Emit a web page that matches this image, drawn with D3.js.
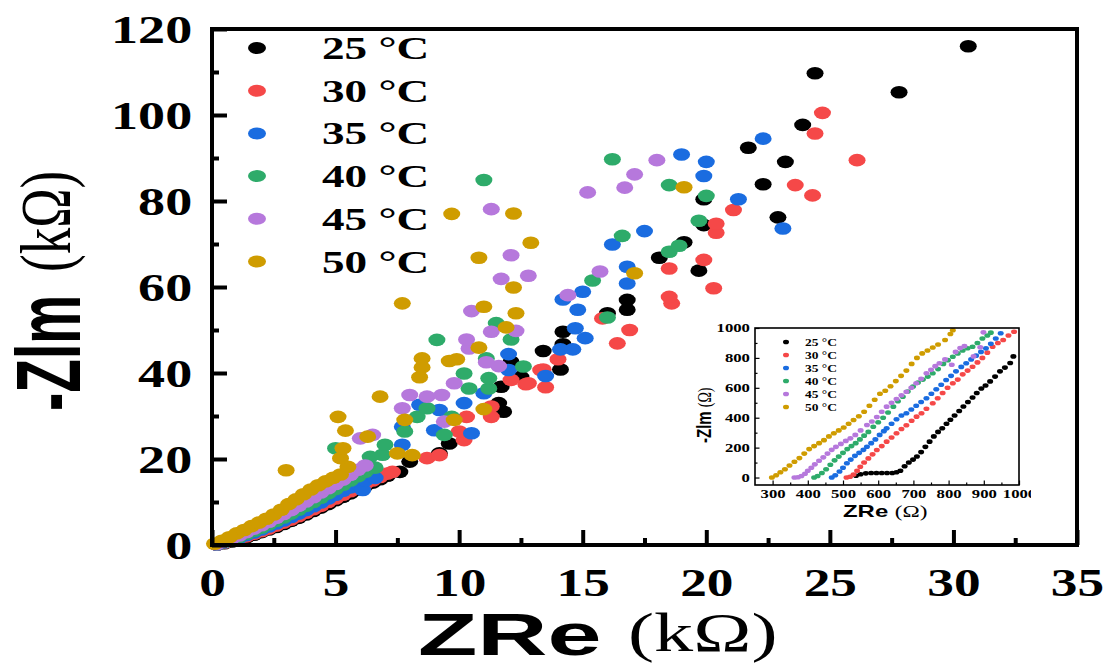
<!DOCTYPE html>
<html>
<head>
<meta charset="utf-8">
<script src="https://cdn.jsdelivr.net/npm/d3@7"></script>
<style>
  body { margin: 0; background: #fff; }
</style>
</head>
<body>
<div class="chart"></div>
<script>
// Nyquist plots, main (kOhm) + inset (Ohm)
var seriesNames = ["25 °C", "30 °C", "35 °C", "40 °C", "45 °C", "50 °C"];

// main plot values [ZRe kOhm, -ZIm kOhm]
var main25 = [[0.2,0.1],[0.5,0.4],[0.8,0.8],[1.1,1.3],[1.4,1.8],[1.7,2.4],[2.0,3.0],[2.3,3.6],[2.6,4.2],[2.9,4.9],[3.2,5.6],[3.5,6.3],[3.8,7.1],[4.1,7.9],[4.4,8.7],[4.7,9.5],[5.0,10.4],[5.3,11.2],[5.6,12.0],[5.9,12.9],[6.2,13.7],[6.5,14.5],[6.8,15.3],[7.1,16.1],
  [7.6,17.0],[8.0,19.4],[9.2,21.3],[9.6,23.6],[11.8,31.0],[11.6,33.0],[11.7,36.8],[12.5,39.1],[12.1,42.6],[13.4,45.1],[14.1,40.8],[14.2,46.7],[14.2,49.6],[16.0,53.9],[16.8,54.7],[16.8,57.0],[18.1,66.8],[19.7,63.8],[19.1,70.4],[19.9,74.4],[19.9,80.4],[22.9,76.2],[22.3,83.9],[23.2,89.1],[21.7,92.4],[23.9,97.7],[24.4,109.7],[27.8,105.3],[30.6,116.0]];
var main30 = [[0.2,0.1],[0.5,0.5],[0.8,1.0],[1.1,1.5],[1.4,2.0],[1.7,2.6],[2.0,3.2],[2.3,3.8],[2.6,4.5],[2.9,5.2],[3.2,5.9],[3.5,6.7],[3.8,7.5],[4.1,8.3],[4.4,9.1],[4.7,10.0],[5.0,10.8],[5.3,11.7],[5.6,12.5],[5.9,13.4],[6.2,14.2],[6.5,15.0],[6.8,15.8],[7.1,16.6],
  [7.3,17.0],[8.7,20.2],[9.2,20.9],[10.2,24.4],[10.0,26.4],[10.3,29.8],[11.3,29.8],[11.3,32.2],[12.1,38.4],[12.7,37.4],[12.8,37.6],[13.5,36.7],[13.3,40.7],[13.4,40.8],[14.0,43.2],[16.4,46.9],[16.9,50.0],[15.8,52.7],[18.6,56.2],[18.5,57.7],[20.3,59.7],[18.5,64.3],[19.9,66.3],[20.4,72.6],[20.4,74.7],[21.1,77.9],[24.3,81.3],[23.6,83.7],[26.1,89.5],[24.4,95.7],[24.7,100.5]];
var main35 = [[0.2,0.1],[0.5,0.6],[0.8,1.1],[1.1,1.7],[1.4,2.3],[1.7,2.9],[2.0,3.6],[2.3,4.3],[2.6,5.0],[2.9,5.7],[3.2,6.5],[3.5,7.3],[3.8,8.1],[4.1,9.0],[4.4,9.9],[4.7,10.8],[5.0,11.7],[5.3,12.6],[5.6,13.4],[5.9,14.2],[6.1,12.8],[6.2,15.0],[6.6,15.6],
  [7.7,23.3],[7.7,27.5],[9.0,26.7],[10.5,26.0],[9.2,31.4],[8.4,32.6],[10.2,33.0],[11.0,35.3],[13.5,39.3],[12.0,40.7],[12.0,44.4],[14.1,45.5],[14.6,45.5],[15.1,48.1],[14.7,50.4],[14.8,54.7],[14.2,57.1],[15.0,58.9],[16.8,60.8],[16.8,64.7],[16.2,69.9],[17.5,73.0],[23.1,73.6],[21.3,80.4],[19.9,85.8],[20.0,89.1],[19.0,90.8],[22.3,94.5]];
var main40 = [[0.2,0.2],[0.5,0.7],[0.8,1.3],[1.1,1.9],[1.4,2.6],[1.7,3.3],[2.0,4.0],[2.3,4.8],[2.6,5.6],[2.9,6.4],[3.2,7.3],[3.5,8.2],[3.8,9.1],[4.1,10.0],[4.4,11.0],[4.7,12.0],[5.0,13.0],[5.3,14.0],[5.6,15.0],[5.9,16.0],[6.2,17.0],[6.6,18.0],
  [5.0,22.5],[6.4,20.5],[6.9,21.0],[7.0,23.3],[7.8,26.4],[9.4,25.6],[8.3,29.8],[9.7,29.8],[8.7,31.8],[10.4,36.4],[11.2,36.4],[11.2,38.8],[10.2,39.9],[12.6,41.5],[11.1,43.4],[9.1,47.7],[12.1,47.8],[11.5,51.6],[16.0,52.9],[15.4,61.5],[18.5,68.2],[18.9,69.6],[16.6,71.9],[19.7,75.4],[20.0,81.2],[18.5,83.7],[11.0,84.9],[16.2,89.7]];
var main45 = [[0.2,0.2],[0.5,0.8],[0.8,1.5],[1.1,2.2],[1.4,3.0],[1.7,3.8],[2.0,4.6],[2.3,5.4],[2.6,6.3],[2.9,7.2],[3.2,8.1],[3.5,9.1],[3.8,10.1],[4.1,11.1],[4.4,12.2],[4.7,13.2],[5.0,14.2],[5.3,15.2],[5.6,16.3],[5.9,17.5],[6.2,18.5],
  [6.0,24.8],[6.5,25.6],[7.7,31.8],[9.4,28.7],[8.0,34.9],[8.7,34.5],[9.3,34.9],[9.8,37.6],[11.6,41.6],[11.1,42.5],[10.4,45.7],[10.3,47.8],[11.3,49.6],[12.3,49.8],[10.5,54.4],[14.4,58.1],[11.7,61.9],[12.8,62.6],[15.7,63.6],[12.1,67.4],[11.3,78.1],[15.2,82.0],[16.7,83.1],[17.1,86.2],[18.0,89.5]];
var main50 = [[0.1,0.3],[0.4,1.0],[0.7,1.8],[1.0,2.7],[1.3,3.5],[1.6,4.4],[1.9,5.2],[2.2,6.1],[2.5,7.1],[2.8,8.2],[3.1,9.5],[3.4,10.6],[3.7,11.8],[4.0,12.9],[4.3,13.9],[4.6,14.8],[4.9,15.6],[5.2,16.4],
  [3.0,17.4],[5.5,18.2],[5.2,20.2],[5.3,22.5],[5.4,26.6],[5.1,29.8],[6.3,25.2],[7.5,21.3],[8.1,20.9],[7.8,29.1],[9.8,29.1],[11.0,31.6],[6.8,34.5],[8.4,39.0],[8.5,41.3],[9.6,42.8],[9.9,43.2],[8.5,43.4],[10.8,45.9],[11.9,50.6],[12.3,53.9],[11.0,55.4],[7.7,56.2],[12.2,59.9],[17.1,63.2],[10.8,66.8],[12.9,70.3],[9.7,77.0],[12.2,77.1],[19.1,83.2]];

// inset values [ZRe Ohm, -ZIm Ohm]
var inset25 = [[537,12],[550,22],[565,28],[580,30],[595,30],[610,30],[625,30],[640,30],[652,35],[663,45],[675,75],[687,100],[699,120],[710,141],[722,170],[734,205],[746,240],[758,275],[770,305],[782,330],[794,360],[805,386],[817,415],[830,445],[842,475],[855,505],[868,535],[880,565],[893,595],[905,615],[918,643],[932,675],[946,710],[960,735],[975,766],[984,810]];
var inset30 = [[510,0],[520,5],[530,20],[540,45],[549,72],[560,100],[572,128],[584,155],[596,184],[610,210],[624,240],[638,268],[652,296],[666,325],[680,350],[695,380],[709,407],[723,430],[737,460],[755,497],[769,530],[783,565],[797,600],[812,630],[826,655],[840,690],[854,715],[868,741],[882,770],[896,800],[910,835],[925,875],[940,900],[955,920],[970,950],[986,975]];
var inset35 = [[468,0],[478,15],[490,40],[500,65],[511,95],[522,120],[534,145],[546,165],[558,185],[568,206],[580,230],[592,255],[604,285],[616,310],[624,329],[638,360],[652,390],[666,415],[680,430],[694,455],[708,480],[722,505],[737,530],[751,560],[765,590],[779,620],[793,652],[807,680],[821,710],[836,740],[850,764],[864,790],[878,815],[892,840],[906,864],[920,895],[934,930],[948,965]];
var inset40 = [[418,0],[428,10],[440,30],[452,55],[464,85],[476,115],[488,140],[500,165],[512,190],[524,210],[536,230],[548,255],[560,280],[572,305],[586,340],[600,370],[614,400],[628,435],[643,474],[656,510],[670,540],[684,575],[699,608],[713,635],[727,655],[741,675],[755,697],[770,725],[785,760],[798,785],[812,808],[826,830],[840,850],[854,865],[868,875],[882,900],[896,930],[910,950],[920,969]];
var inset45 = [[362,0],[372,2],[382,10],[392,25],[400,45],[410,65],[420,88],[432,112],[444,135],[456,160],[468,185],[480,205],[494,225],[508,245],[521,262],[535,285],[550,315],[568,351],[582,375],[596,405],[610,440],[624,474],[638,500],[652,525],[666,550],[680,574],[694,600],[708,630],[722,660],[737,697],[750,720],[762,745],[774,764],[790,790],[809,754],[820,840],[833,866],[845,880],[871,810],[890,871],[899,971]];
var inset50 = [[298,0],[310,15],[322,35],[335,55],[348,80],[362,105],[376,130],[390,160],[404,190],[418,210],[432,230],[446,250],[460,275],[474,296],[488,315],[502,335],[516,360],[530,385],[545,410],[560,440],[575,480],[590,520],[605,560],[620,580],[635,610],[650,645],[665,680],[680,715],[695,760],[710,800],[725,830],[740,850],[755,870],[770,890],[790,920],[805,960],[812,985]];

var mainTicksX = [0, 5, 10, 15, 20, 25, 30, 35];
var mainTicksY = [0, 20, 40, 60, 80, 100, 120];
var insetTicksX = [300, 400, 500, 600, 700, 800, 900, 1000];
var insetTicksY = [0, 200, 400, 600, 800, 1000];

var mainData = [main25, main30, main35, main40, main45, main50];
var insetData = [inset25, inset30, inset35, inset40, inset45, inset50];
var colors = ["#000000", "#f54848", "#1a6ce0", "#2eab6a", "#b678dc", "#cf9c00"];

var svgWidth = 1109, svgHeight = 663;
var serif = "'Liberation Serif','Times New Roman',serif";
var sans = "'Liberation Sans',Arial,sans-serif";

var svg = d3.select(".chart").append("svg")
  .attr("width", svgWidth).attr("height", svgHeight)
  .style("display", "block");

// ---- main chart ----
var x = d3.scaleLinear().domain([0, 35]).range([212, 1077]);
var y = d3.scaleLinear().domain([0, 120]).range([545, 29]);

function styleAxis(g, fs, sx, sw) {
  g.select(".domain").remove();
  g.selectAll("line").attr("stroke", "#000").attr("stroke-width", sw);
  g.selectAll("text")
    .attr("fill", "#000")
    .style("font-family", serif).style("font-weight", "bold").style("font-size", fs + "px")
    .attr("transform", "scale(" + sx + ",1)");
}

var series = svg.append("g");
mainData.forEach(function(pts, i) {
  series.append("g").selectAll("ellipse")
    .data(pts).enter().append("ellipse")
    .attr("cx", function(d) { return x(d[0]); })
    .attr("cy", function(d) { return y(d[1]); })
    .attr("rx", 8.5).attr("ry", 6.3)
    .attr("fill", colors[i]);
});

// minor ticks
svg.append("g").attr("transform", "translate(212,0)")
  .call(d3.axisLeft(y).tickValues(d3.range(10, 120, 20)).tickSize(-7).tickFormat(""))
  .call(styleAxis, 10, 1, 4);
svg.append("g").attr("transform", "translate(0,545)")
  .call(d3.axisBottom(x).tickValues(d3.range(2.5, 35, 5)).tickSize(-7).tickFormat(""))
  .call(styleAxis, 10, 1, 4);
// major ticks + labels
svg.append("g").attr("transform", "translate(212,0)")
  .call(d3.axisLeft(y).tickValues(mainTicksY).tickSize(-15).tickPadding(15).tickFormat(d3.format("d")))
  .call(styleAxis, 41, 1.32, 4);
svg.append("g").attr("transform", "translate(0,545)")
  .call(d3.axisBottom(x).tickValues(mainTicksX).tickSize(-15).tickPadding(22).tickFormat(d3.format("d")))
  .call(styleAxis, 41, 1.3, 4);

svg.append("rect")
  .attr("x", 212).attr("y", 29).attr("width", 865).attr("height", 516)
  .attr("fill", "none").attr("stroke", "#000").attr("stroke-width", 4);

// legend
var leg = svg.append("g");
seriesNames.forEach(function(name, i) {
  var ly = 48 + i * 42.7;
  leg.append("ellipse").attr("cx", 257).attr("cy", ly).attr("rx", 9).attr("ry", 6)
    .attr("fill", colors[i]);
  leg.append("text")
    .attr("transform", "translate(322," + (ly + 11) + ") scale(1.39,1)")
    .style("font-family", serif).style("font-weight", "bold").style("font-size", "32.5px")
    .text(name);
});

// axis titles
svg.append("text")
  .attr("transform", "translate(418,655) scale(1.62,1)")
  .style("font-family", sans).style("font-weight", "bold").style("font-size", "60px")
  .text("ZRe");
svg.append("text")
  .attr("transform", "translate(628,651) scale(1.45,1)")
  .style("font-family", serif).style("font-size", "54px")
  .text("(kΩ)");
svg.append("text")
  .attr("transform", "translate(80,411) rotate(-90) scale(1,1.64)")
  .style("font-family", sans).style("font-weight", "bold").style("font-size", "55px")
  .text("-Zlm");
svg.append("text")
  .attr("transform", "translate(70,272) rotate(-90) scale(1,1.34)")
  .style("font-family", serif).style("font-size", "53px")
  .text("(kΩ)");

// ---- inset ----
svg.append("clipPath").attr("id", "insetClip")
  .append("rect").attr("x", 680).attr("y", 300).attr("width", 351).attr("height", 240);
var inset = svg.append("g").attr("clip-path", "url(#insetClip)");
var xi = d3.scaleLinear().domain([250, 1000]).range([755, 1019]);
var yi = d3.scaleLinear().domain([-50, 1000]).range([485, 328]);

inset.append("rect").attr("x", 755).attr("y", 328).attr("width", 264).attr("height", 157)
  .attr("fill", "#fff");

insetData.forEach(function(pts, i) {
  inset.append("g").selectAll("ellipse")
    .data(pts).enter().append("ellipse")
    .attr("cx", function(d) { return xi(d[0]); })
    .attr("cy", function(d) { return yi(d[1]); })
    .attr("rx", 3).attr("ry", 2.3)
    .attr("fill", colors[i]);
});

inset.append("g").attr("transform", "translate(755,0)")
  .call(d3.axisLeft(yi).tickValues(d3.range(100, 1000, 200)).tickSize(-2.5).tickFormat(""))
  .call(styleAxis, 10, 1, 1.2);
inset.append("g").attr("transform", "translate(0,485)")
  .call(d3.axisBottom(xi).tickValues(d3.range(350, 1000, 100)).tickSize(-2.5).tickFormat(""))
  .call(styleAxis, 10, 1, 1.2);
inset.append("g").attr("transform", "translate(755,0)")
  .call(d3.axisLeft(yi).tickValues(insetTicksY).tickSize(-4.5).tickPadding(3.5).tickFormat(d3.format("d")))
  .call(styleAxis, 11.5, 1.45, 1.2);
inset.append("g").attr("transform", "translate(0,485)")
  .call(d3.axisBottom(xi).tickValues(insetTicksX).tickSize(-4.5).tickPadding(5).tickFormat(d3.format("d")))
  .call(styleAxis, 11.5, 1.45, 1.2);

inset.append("rect").attr("x", 755).attr("y", 328).attr("width", 264).attr("height", 157)
  .attr("fill", "none").attr("stroke", "#000").attr("stroke-width", 1.6);

seriesNames.forEach(function(name, i) {
  var ly = 342 + i * 13;
  inset.append("ellipse").attr("cx", 786).attr("cy", ly).attr("rx", 3).attr("ry", 2.3)
    .attr("fill", colors[i]);
  inset.append("text")
    .attr("transform", "translate(805," + (ly + 3.5) + ") scale(1.35,1)")
    .style("font-family", serif).style("font-weight", "bold").style("font-size", "10px")
    .text(name);
});

var xt = inset.append("text")
  .attr("transform", "translate(843,517) scale(1.45,1)");
xt.append("tspan").style("font-family", sans).style("font-weight", "bold").style("font-size", "16.5px").text("ZRe ");
xt.append("tspan").style("font-family", serif).style("font-size", "16px").text("(Ω)");

var yt = inset.append("text")
  .attr("transform", "translate(711,443) rotate(-90) scale(1,1.4)");
yt.append("tspan").style("font-family", sans).style("font-weight", "bold").style("font-size", "15px").text("-Zlm ");
yt.append("tspan").style("font-family", serif).style("font-size", "14px").text("(Ω)");
</script>
</body>
</html>
